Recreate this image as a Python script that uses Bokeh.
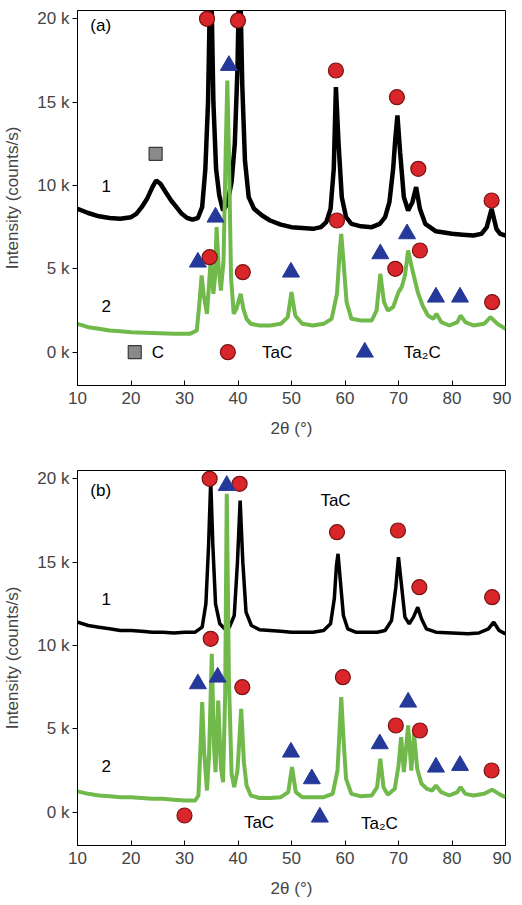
from bokeh.plotting import figure
from bokeh.layouts import column
from bokeh.models import FixedTicker, ColumnDataSource
from bokeh.core.properties import value
from bokeh.embed import file_html
from bokeh.resources import INLINE

# ---------------- data ----------------
x_ticks = [10, 20, 30, 40, 50, 60, 70, 80, 90]
y_ticks = [0, 5000, 10000, 15000, 20000]
y_tick_labels = ["0 k", "5 k", "10 k", "15 k", "20 k"]

# panel (a), curve 1 (black)
a1_x = [10, 12, 14, 16, 18, 20, 21, 22, 23, 24, 24.7, 25.5, 26.5, 27.5, 28.5, 29.5,
        30.5, 31.5, 32.5, 33.3, 33.9, 34.4, 34.9, 35.4, 35.9, 36.5, 37.2, 38.0, 38.8,
        39.4, 39.9, 40.3, 40.8, 41.3, 42.0, 43.0, 44.5, 46, 48, 50, 52, 54, 55.5, 56.5,
        57.3, 57.9, 58.3, 58.8, 59.4, 60.2, 61.2, 63, 65, 66.5, 67.5, 68.3, 69.0, 69.4,
        69.8, 70.3, 71.0, 71.8, 72.6, 73.3, 74.0, 75.0, 77, 80, 82, 84, 85.5, 86.5,
        87.4, 88.3, 89, 90]
a1_y = [8600, 8350, 8150, 8050, 8000, 8100, 8300, 8700, 9200, 9900, 10300, 10100, 9600,
        9100, 8700, 8300, 8050, 7950, 8050, 8700, 11000, 15000, 24000, 15000, 11000,
        9400, 8500, 8900, 10200, 12500, 17000, 24000, 16000, 11500, 9300, 8600, 8200,
        7900, 7650, 7500, 7450, 7400, 7500, 7800, 8600, 11000, 15900, 12500, 9300, 8100,
        7700, 7550, 7500, 7700, 8100, 9000, 11000, 12800, 14200, 12000, 9300, 8500,
        9000, 9900, 8600, 7700, 7250, 7100, 7050, 7000, 7100, 7500, 8600, 7400, 7100,
        7000]

# panel (a), curve 2 (green)
a2_x = [10, 12, 14, 16, 18, 20, 24, 28, 31, 32.3, 32.8, 33.2, 33.6, 34.2, 34.9, 35.4,
        35.7, 36.0, 36.4, 36.8, 37.3, 37.7, 38.0, 38.3, 38.7, 39.2, 39.7, 40.5, 41.0,
        41.6, 42.4, 44, 46, 48, 49.3, 50.0, 50.7, 52, 54, 56, 57.5, 58.5, 59.0, 59.3,
        59.7, 60.3, 61.2, 63, 65, 65.9, 66.6, 67.3, 68.0, 69, 70.0, 70.6, 71.2, 71.8,
        72.4, 73.0, 73.6, 74.5, 75.5, 76.5, 77.1, 78, 79.5, 81, 81.6, 82.5, 84, 86,
        87.2, 88.5, 90]
a2_y = [1700, 1500, 1400, 1300, 1250, 1200, 1150, 1100, 1100, 1300, 3000, 4600, 3400,
        2300, 5500, 3500, 4500, 7500, 5000, 3700, 5500, 12000, 16300, 12000, 4500, 2300,
        2600, 3500, 2600, 2000, 1700, 1600, 1600, 1700, 2100, 3600, 2200, 1700, 1600,
        1700, 2000, 3500, 6000, 7100, 5500, 3000, 2000, 1900, 1900, 2500, 4700, 3000,
        2500, 2700, 3600, 3900, 4600, 6100, 5200, 4400, 3600, 2800, 2200, 2000, 2300,
        1800, 1600, 1800, 2200, 1800, 1600, 1700, 2100, 1700, 1400]

# panel (b), curve 1 (black)
b1_x = [10, 12, 14, 16, 18, 20, 22, 24, 26, 28, 30, 32, 33.3, 34.0, 34.5, 34.9, 35.3,
        35.8, 36.6, 37.5, 38.4, 39.3, 39.9, 40.4, 40.9, 41.5, 42.5, 44, 46, 48, 50, 52,
        54, 56, 57.3, 58.0, 58.4, 58.7, 59.1, 59.7, 60.5, 62, 64, 66, 67.5, 68.7, 69.5,
        70.0, 70.5, 71.2, 72.0, 72.8, 73.6, 74.3, 75.2, 77, 80, 83, 85, 86.8, 87.8,
        88.8, 90]
b1_y = [11400, 11200, 11100, 11000, 10900, 10900, 10850, 10800, 10800, 10750, 10800,
        10800, 11100, 12500, 16000, 19900, 16000, 12500, 11300, 11000, 11100, 11800,
        15000, 18700, 15000, 12000, 11200, 10950, 10900, 10850, 10800, 10800, 10800,
        10900, 11300, 12800, 14800, 15500, 14000, 11800, 11000, 10800, 10800, 10800,
        10900, 11500, 13500, 15300, 13800, 11700, 11300, 11700, 12300, 11600, 11000,
        10800, 10750, 10700, 10750, 11000, 11400, 10900, 10700]

# panel (b), curve 2 (green)
b2_x = [10, 12, 14, 16, 18, 20, 22, 24, 26, 28, 30, 32, 32.6, 33.0, 33.3, 33.7, 34.2,
        34.6, 35.1, 35.5, 35.8, 36.3, 36.8, 37.2, 37.6, 37.9, 38.3, 38.8, 39.3, 39.9,
        40.6, 41.1, 41.6, 42.4, 44, 46, 48, 49.4, 50.1, 50.8, 52, 54, 56, 57.7, 58.6,
        59.0, 59.3, 59.7, 60.2, 61.2, 63, 65, 66.0, 66.6, 67.2, 68.0, 69.3, 70.0, 70.5,
        71.0, 71.8, 72.4, 72.9, 73.5, 74.3, 75.3, 76.3, 77.0, 78.0, 79.5, 81.0, 81.6,
        82.5, 84, 86, 87.5, 89, 90]
b2_y = [1250, 1100, 1000, 950, 900, 900, 850, 800, 800, 750, 700, 700, 1000, 4000, 6600,
        3500, 1300, 3500, 9500, 4000, 2400, 6700, 2700, 1800, 7000, 19100, 8000, 2300,
        1500, 2500, 6200, 3000, 1600, 1000, 850, 850, 900, 1200, 2700, 1200, 900, 900,
        900, 1100, 2500, 5000, 6900, 4500, 2000, 1100, 950, 1000, 1500, 3200, 1500, 1050,
        1400, 2800, 4500, 2400, 5200, 2500, 4700, 2600, 1700, 1400, 1300, 1600, 1200,
        1000, 1200, 1500, 1100, 1000, 1100, 1350, 1050, 900]

# phase markers: TaC (circle), Ta2C (triangle), C (square)
a_tac_x = [34.2, 40.0, 58.3, 69.7, 73.7, 87.4, 34.7, 40.9, 58.5, 69.4, 74.0, 87.5, 38.1]
a_tac_y = [20000, 19900, 16900, 15300, 11000, 9100, 5700, 4800, 7900, 5000, 6100, 3000, 0]
a_ta2c_x = [38.3, 35.8, 32.5, 49.9, 66.6, 71.6, 77.0, 81.5, 63.7]
a_ta2c_y = [17200, 8100, 5400, 4800, 5900, 7100, 3300, 3300, 0]
a_c_x = [24.6, 20.7]
a_c_y = [11900, 0]

b_tac_x = [34.7, 40.3, 58.5, 69.9, 73.9, 87.5, 34.9, 40.8, 59.6, 69.5, 74.0, 87.4, 30.0]
b_tac_y = [20000, 19700, 16800, 16900, 13500, 12900, 10400, 7500, 8100, 5200, 4900, 2500, -200]
b_ta2c_x = [37.9, 32.5, 36.2, 49.9, 53.8, 66.5, 71.8, 77.0, 81.5, 55.3]
b_ta2c_y = [19600, 7700, 8100, 3600, 2000, 4100, 6600, 2700, 2800, -300]

a_labels = ["(a)", "1", "2", "C", "TaC", "Ta\u2082C"]
a_label_x = [12.4, 14.5, 14.5, 23.9, 44.5, 71.0]
a_label_y = [19600, 10000, 2800, 0, 0, 0]
b_labels = ["(b)", "1", "2", "TaC", "TaC", "Ta\u2082C"]
b_label_x = [12.4, 14.5, 14.5, 55.4, 41.1, 63.0]
b_label_y = [19300, 12800, 2800, 18700, -600, -650]

FONT = "Liberation Sans"
GREEN = "#70b94a"
RED = "#d8262a"
BLUE = "#25399a"


def make_panel(c1x, c1y, c2x, c2y, tx, ty, t2x, t2y, cx, cy, labs, lx, ly,
               top_border, black_width):
    p = figure(frame_width=428, frame_height=375, x_range=(10, 90),
               y_range=(-2000, 20500), output_backend="svg", toolbar_location=None,
               min_border_left=71, min_border_right=6, min_border_top=top_border,
               min_border_bottom=58)
    p.background_fill_color = "white"
    p.border_fill_color = "white"
    p.outline_line_color = "black"
    p.outline_line_width = 1
    p.xgrid.visible = False
    p.ygrid.visible = False

    p.line(c1x, c1y, line_color="black", line_width=black_width)
    p.line(c2x, c2y, line_color=GREEN, line_width=4)

    p.scatter(tx, ty, marker="circle", size=15, fill_color=RED,
              line_color="#7a1212", line_width=1.2)
    p.scatter(t2x, t2y, marker="triangle", size=17, fill_color=BLUE,
              line_color=BLUE, line_width=1)
    if cx:
        p.scatter(cx, cy, marker="square", size=13, fill_color="#8a8a8a",
                  line_color="#3a3a3a", line_width=1.2)

    src = ColumnDataSource(dict(x=lx, y=ly, t=labs))
    p.text(x="x", y="y", text="t", source=src, text_font=value(FONT),
           text_font_size="17px", text_baseline="middle", text_align="left",
           text_color="black")

    xa = p.xaxis[0]
    xa.ticker = FixedTicker(ticks=x_ticks)
    xa.major_tick_in = 5
    xa.major_tick_out = 0
    xa.minor_tick_line_color = None
    xa.major_label_text_font = FONT
    xa.major_label_text_font_size = "17px"
    xa.major_label_standoff = 6
    xa.axis_label = "2\u03b8 (\u00b0)"
    xa.axis_label_text_font = FONT
    xa.axis_label_text_font_size = "17px"
    xa.axis_label_text_font_style = "normal"
    xa.axis_label_standoff = 12
    xa.axis_line_color = "black"

    ya = p.yaxis[0]
    ya.ticker = FixedTicker(ticks=y_ticks)
    ya.major_label_overrides = dict(zip(y_ticks, y_tick_labels))
    ya.major_tick_in = 0
    ya.major_tick_out = 5
    ya.minor_tick_line_color = None
    ya.major_label_text_font = FONT
    ya.major_label_text_font_size = "17px"
    ya.major_label_standoff = 3
    ya.axis_label = "Intensity (counts/s)"
    ya.axis_label_text_font = FONT
    ya.axis_label_text_font_size = "17px"
    ya.axis_label_text_font_style = "normal"
    ya.axis_label_standoff = 12
    ya.axis_line_color = "black"
    return p


pa = make_panel(a1_x, a1_y, a2_x, a2_y, a_tac_x, a_tac_y, a_ta2c_x, a_ta2c_y,
                a_c_x, a_c_y, a_labels, a_label_x, a_label_y, 10, 4.5)
pb = make_panel(b1_x, b1_y, b2_x, b2_y, b_tac_x, b_tac_y, b_ta2c_x, b_ta2c_y,
                [], [], b_labels, b_label_x, b_label_y, 27, 3.5)

layout = column(pa, pb, spacing=0)

open("out.html", "w").write(file_html(layout, INLINE))
